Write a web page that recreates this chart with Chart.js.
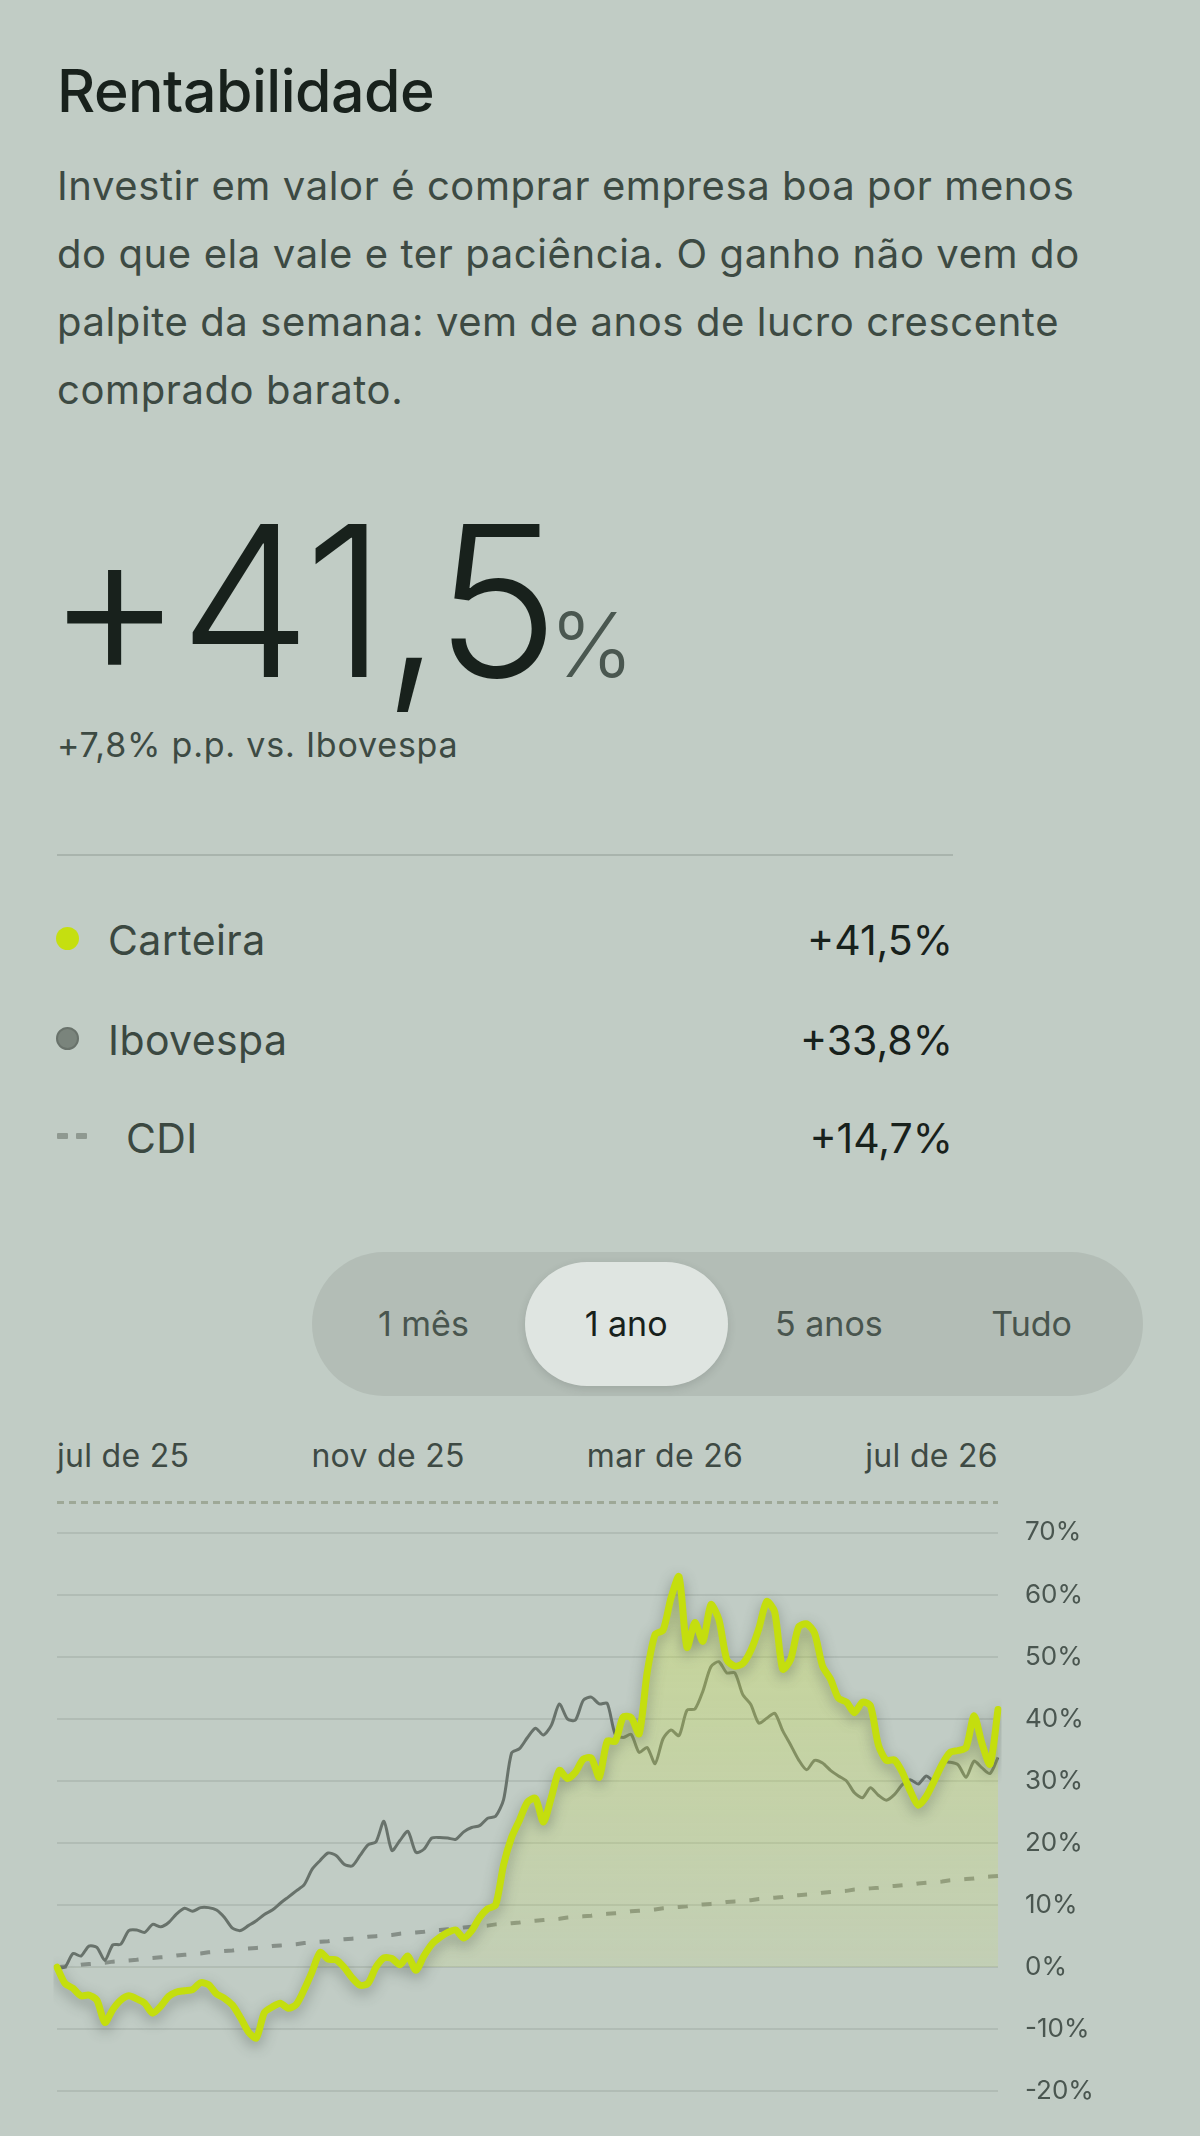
<!DOCTYPE html>
<html lang="pt-BR">
<head>
<meta charset="utf-8">
<title>Rentabilidade</title>
<script src="https://cdn.jsdelivr.net/npm/chart.js@4.4.1/dist/chart.umd.min.js"></script>
<style>
  html, body { margin: 0; padding: 0; }
  body {
    width: 1200px; height: 2136px; position: relative; overflow: hidden;
    background: #c1ccc5; color: #18211c;
    font-family: Inter, "Noto Sans", sans-serif;
  }
  .abs { position: absolute; white-space: nowrap; line-height: 1; }
  #titulo { left: 57px; top: 61px; font-size: 59px; font-weight: 500; letter-spacing: -0.5px; }
  #texto { left: 57px; top: 152px; font-size: 40px; line-height: 68px; letter-spacing: 0.6px; color: #3d4a43; }
  #grande { left: 46px; top: 496px; font-size: 210px; font-weight: 300; letter-spacing: -4px; }
  #grande span { font-size: 90px; letter-spacing: 0; color: #4a5750; margin-left: -6px; }
  #sub { left: 57px; top: 728px; font-size: 34px; letter-spacing: 0.8px; color: #3d4a43; }
  #divisor { position: absolute; left: 57px; top: 854px; width: 896px; height: 2px; background: #a9b4ad; }
  .leg { position: absolute; left: 57px; width: 896px; height: 41px; font-size: 41px; line-height: 1; }
  .leg .nome { position: absolute; top: 0; color: #3b4841; letter-spacing: 0.4px; }
  .leg .valor { position: absolute; right: 0; top: 0; color: #18211c; }
  .leg .marca { position: absolute; }
  #periodo {
    position: absolute; left: 312px; top: 1252px; width: 831px; height: 144px;
    border-radius: 72px; background: #b3bdb6; box-sizing: border-box; padding: 10px;
    display: flex;
  }
  #periodo div {
    width: 203px; height: 124px; border-radius: 62px; display: flex;
    align-items: center; justify-content: center; font-size: 34px; line-height: 1; color: #49554e;
  }
  #periodo div.ativo { background: #dfe5e1; color: #18211c; box-shadow: 0 3px 8px rgba(40, 50, 45, 0.15); }
  #meses {
    position: absolute; left: 57px; top: 1440px; width: 941px; display: flex;
    justify-content: space-between; font-size: 32px; letter-spacing: 0.3px; line-height: 1; color: #3e4a44;
  }
  #tracejado {
    position: absolute; left: 57px; top: 1501px; width: 941px; height: 3px;
    background: repeating-linear-gradient(90deg, #9ea897 0 7px, transparent 7px 12px);
  }
  #grafico { position: absolute; left: 0; top: 1490px; }
</style>
</head>
<body>
<div id="titulo" class="abs">Rentabilidade</div>
<div id="texto" class="abs">Investir em valor é comprar empresa boa por menos<br>do que ela vale e ter paciência. O ganho não vem do<br>palpite da semana: vem de anos de lucro crescente<br>comprado barato.</div>
<div id="grande" class="abs">+41,5<span>%</span></div>
<div id="sub" class="abs">+7,8% p.p. vs. Ibovespa</div>
<div id="divisor"></div>
<div id="legenda"></div>
<div id="periodo"></div>
<div id="meses"></div>
<div id="tracejado"></div>
<canvas id="grafico" width="1200" height="644"></canvas>

<script>
// séries (% acumulado no período de 1 ano)
var carteira = [
  0, -2.6, -3.4, -4.6, -4.5, -5.3, -8.9, -6.8, -5.3, -4.6,
  -5.1, -5.8, -7.4, -6.3, -4.7, -4.0, -3.8, -3.6, -2.5, -2.8,
  -4.3, -5.0, -6.1, -8.1, -10.4, -11.4, -7.3, -6.4, -5.8, -6.6,
  -6.0, -3.6, -0.7, 2.4, 1.3, 1.2, 0.0, -1.7, -2.9, -2.6,
  0.0, 1.5, 1.4, 0.4, 1.8, -0.5, 1.8, 3.7, 4.8, 5.6,
  6.0, 4.7, 5.9, 8.0, 9.4, 10.0, 16.5, 20.9, 23.7, 26.6,
  27.2, 23.4, 27.4, 31.7, 30.4, 31.4, 33.5, 33.7, 30.6, 36.4,
  36.4, 40.3, 40.2, 37.6, 47.4, 53.6, 54.3, 59.5, 62.9, 51.5,
  55.5, 52.5, 58.4, 56.0, 49.5, 48.5, 48.9, 51.0, 54.5, 58.9,
  57.2, 48.0, 49.6, 54.8, 55.3, 53.8, 48.5, 46.4, 43.3, 42.7,
  41.0, 42.7, 42.1, 35.8, 33.3, 33.4, 31.4, 28.4, 26.1, 27.5,
  30.0, 32.7, 34.6, 34.9, 35.4, 40.5, 36.0, 32.7, 41.5
];
var ibovespa = [
  0, 0, 2.2, 1.8, 3.4, 3.2, 1.1, 3.6, 3.7, 5.9,
  6.0, 5.6, 6.9, 6.5, 7.2, 8.6, 9.5, 9.0, 9.6, 9.6,
  9.2, 8.0, 6.3, 5.9, 6.7, 7.5, 8.5, 9.2, 10.3, 11.3,
  12.3, 13.3, 15.8, 17.2, 18.4, 18.0, 16.6, 16.3, 18.0, 19.7,
  20.2, 23.5, 18.8, 20.4, 21.9, 18.5, 19.0, 20.8, 20.9, 20.8,
  20.6, 21.8, 22.5, 22.8, 24.0, 24.3, 27.0, 34.5, 35.2, 37.0,
  38.5, 37.4, 39.0, 42.4, 40.0, 39.8, 43.0, 43.5, 42.4, 42.5,
  37.5, 37.0, 37.5, 34.6, 35.4, 32.8, 36.8, 38.2, 37.3, 41.4,
  41.6, 44.5, 48.4, 49.2, 47.4, 47.4, 43.9, 42.3, 39.3, 40.1,
  40.9, 38.1, 35.8, 33.4, 31.8, 33.3, 32.9, 31.7, 30.8, 30.0,
  28.1, 27.3, 28.9, 27.7, 26.9, 27.8, 29.4, 30.2, 29.5, 30.8,
  30.0, 33.0, 33.0, 32.6, 30.6, 33.2, 32.1, 31.2, 33.8
];
var cdi = [
  0.0, 0.1, 0.2, 0.4, 0.5, 0.6, 0.7, 0.9, 1.0, 1.1,
  1.2, 1.4, 1.5, 1.6, 1.7, 1.9, 2.0, 2.1, 2.2, 2.4,
  2.5, 2.6, 2.7, 2.9, 3.0, 3.1, 3.2, 3.4, 3.5, 3.6,
  3.7, 3.9, 4.0, 4.1, 4.2, 4.4, 4.5, 4.6, 4.7, 4.9,
  5.0, 5.1, 5.2, 5.4, 5.5, 5.6, 5.7, 5.9, 6.0, 6.1,
  6.2, 6.4, 6.5, 6.6, 6.7, 6.9, 7.0, 7.1, 7.2, 7.4,
  7.5, 7.6, 7.7, 7.8, 8.0, 8.1, 8.2, 8.3, 8.5, 8.6,
  8.7, 8.8, 9.0, 9.1, 9.2, 9.3, 9.5, 9.6, 9.7, 9.8,
  10.0, 10.1, 10.2, 10.3, 10.5, 10.6, 10.7, 10.8, 11.0, 11.1,
  11.2, 11.3, 11.5, 11.6, 11.7, 11.8, 12.0, 12.1, 12.2, 12.3,
  12.5, 12.6, 12.7, 12.8, 13.0, 13.1, 13.2, 13.3, 13.5, 13.6,
  13.7, 13.8, 14.0, 14.1, 14.2, 14.3, 14.5, 14.6, 14.7
];
var pregoes = carteira.map(function (v, i) { return i; });

var meses = ["jul de 25", "nov de 25", "mar de 26", "jul de 26"];
var yTicks = [-20, -10, 0, 10, 20, 30, 40, 50, 60, 70];
var periodos = ["1 mês", "1 ano", "5 anos", "Tudo"];
var periodoAtivo = "1 ano";

var nomesLegenda = ["Carteira", "Ibovespa", "CDI"];
var valoresLegenda = ["+41,5%", "+33,8%", "+14,7%"];

// legenda em html
var legTops = [920, 1020, 1118];
var legHtml = "";
for (var i = 0; i < nomesLegenda.length; i++) {
  var marca, nomeLeft = 51;
  if (i == 0) {
    marca = '<div class="marca" style="left:-1px;top:7px;width:23px;height:23px;border-radius:50%;background:#c5df10"></div>';
  } else if (i == 1) {
    marca = '<div class="marca" style="left:-1px;top:7px;width:23px;height:23px;border-radius:50%;background:#7a847c;box-sizing:border-box;border:2px solid #69726b"></div>';
  } else {
    marca = '<div class="marca" style="left:0;top:15px;width:11px;height:6px;border-radius:1px;background:#8f9991"></div>' +
            '<div class="marca" style="left:19px;top:15px;width:11px;height:6px;border-radius:1px;background:#8f9991"></div>';
    nomeLeft = 69;
  }
  legHtml += '<div class="leg" style="top:' + legTops[i] + 'px">' + marca +
    '<div class="nome" style="left:' + nomeLeft + 'px">' + nomesLegenda[i] + '</div>' +
    '<div class="valor">' + valoresLegenda[i] + '</div></div>';
}
document.getElementById("legenda").innerHTML = legHtml;

document.getElementById("periodo").innerHTML = periodos.map(function (p) {
  return '<div' + (p == periodoAtivo ? ' class="ativo"' : '') + '>' + p + '</div>';
}).join("");

document.getElementById("meses").innerHTML = meses.map(function (m) {
  return "<span>" + m + "</span>";
}).join("");

// sombra suave embaixo da linha da carteira
var sombra = {
  id: "sombra",
  beforeDatasetDraw: function (chart, args) {
    if (args.index !== 0) return;
    var c = chart.ctx;
    c.save();
    c.shadowColor = "rgba(66, 78, 70, 0.45)";
    c.shadowBlur = 14;
    c.shadowOffsetY = 5;
  },
  afterDatasetDraw: function (chart, args) {
    if (args.index !== 0) return;
    chart.ctx.restore();
  }
};

var grafico = new Chart("grafico", {
  type: "line",
  data: {
    labels: pregoes,
    datasets: [{
      label: "Carteira",
      data: carteira,
      borderColor: "#c4de0e",
      borderWidth: 7,
      borderJoinStyle: "round",
      borderCapStyle: "round",
      pointRadius: 0,
      tension: 0.25,
      fill: { target: "origin", above: "rgba(206, 228, 70, 0.22)", below: "rgba(0, 0, 0, 0)" }
    }, {
      label: "Ibovespa",
      data: ibovespa,
      borderColor: "#68726b",
      borderWidth: 3,
      pointRadius: 0,
      tension: 0.25,
      fill: false
    }, {
      label: "CDI",
      data: cdi,
      borderColor: "#868f88",
      borderWidth: 4,
      borderDash: [10, 14],
      pointRadius: 0,
      tension: 0,
      fill: false
    }]
  },
  options: {
    responsive: false,
    animation: false,
    devicePixelRatio: 1,
    layout: { padding: { left: 57, top: 30.5, bottom: 31, right: 0 } },
    plugins: { legend: { display: false }, tooltip: { enabled: false } },
    scales: {
      x: { display: false },
      y: {
        position: "right",
        min: -20,
        max: 70,
        afterBuildTicks: function (s) { s.ticks = yTicks.map(function (v) { return { value: v }; }); },
        afterFit: function (s) { s.width = 202; },
        grid: { color: "#b1bcb5", lineWidth: 2, drawTicks: false },
        border: { display: false },
        ticks: {
          padding: 27,
          color: "#4a5650",
          font: { family: "Inter", size: 26 },
          callback: function (v) { return v + "%"; }
        }
      }
    }
  },
  plugins: [sombra]
});

// degradê do preenchimento, do topo da carteira até o 0%
var ys = grafico.scales.y;
var grad = grafico.ctx.createLinearGradient(0, ys.getPixelForValue(63), 0, ys.getPixelForValue(0));
grad.addColorStop(0, "rgba(208, 230, 70, 0.36)");
grad.addColorStop(1, "rgba(208, 230, 70, 0.12)");
grafico.data.datasets[0].fill.above = grad;
grafico.update();
</script>
</body>
</html>
